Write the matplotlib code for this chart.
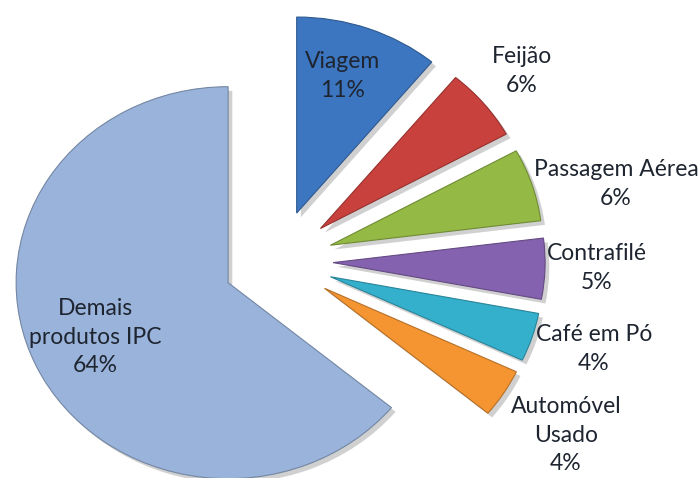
import matplotlib.pyplot as plt
import matplotlib.patheffects as pe
from matplotlib.colors import to_rgb

# dados do gráfico (peso no IPC)
categorias = ['Viagem', 'Feijão', 'Passagem Aérea', 'Contrafilé',
              'Café em Pó', 'Automóvel\nUsado', 'Demais\nprodutos IPC']
pesos = [11, 6, 6, 5, 4, 4, 64]
cores = ['#3D76C0', '#C8413D', '#94BA45', '#8562AF',
         '#35B0CC', '#F49532', '#9AB3DA']

# posição dos rótulos (pixels na imagem)
pos_rotulos = [(343, 76), (522, 71), (616, 184), (597, 268),
               (594, 349), (566, 435), (95, 337)]

W, H = 699, 478
cx, cy = 278, 261      # centro da pizza em pixels
rx, ry = 212, 196      # a pizza original está um pouco esticada na horizontal

fig = plt.figure(figsize=(W / 100, H / 100), dpi=100)
ax = fig.add_axes([0, 0, 1, 1])

wedges, _ = ax.pie(pesos, startangle=90, counterclock=False, colors=cores,
                   explode=[0.26] * len(pesos), radius=1)

for w, c in zip(wedges, cores):
    r, g, b = to_rgb(c)
    w.set_edgecolor((r * 0.75, g * 0.75, b * 0.75))
    w.set_linewidth(0.8)
    w.set_path_effects([pe.SimplePatchShadow(offset=(3, -3), shadow_rgbFace='#666666', alpha=0.3),
                        pe.Normal()])

for cat, p, (px, py) in zip(categorias, pesos, pos_rotulos):
    ax.text((px - cx) / rx, (cy - py) / ry, f'{cat}\n{p}%', ha='center', va='center',
            multialignment='center', fontsize=16.5, family='Lato', color='#1E2530',
            linespacing=1.45)

ax.set_aspect('auto')
ax.set_xlim(-cx / rx, (W - cx) / rx)
ax.set_ylim(-(H - cy) / ry, cy / ry)
ax.axis('off')

fig.savefig('out.png', dpi=100)
